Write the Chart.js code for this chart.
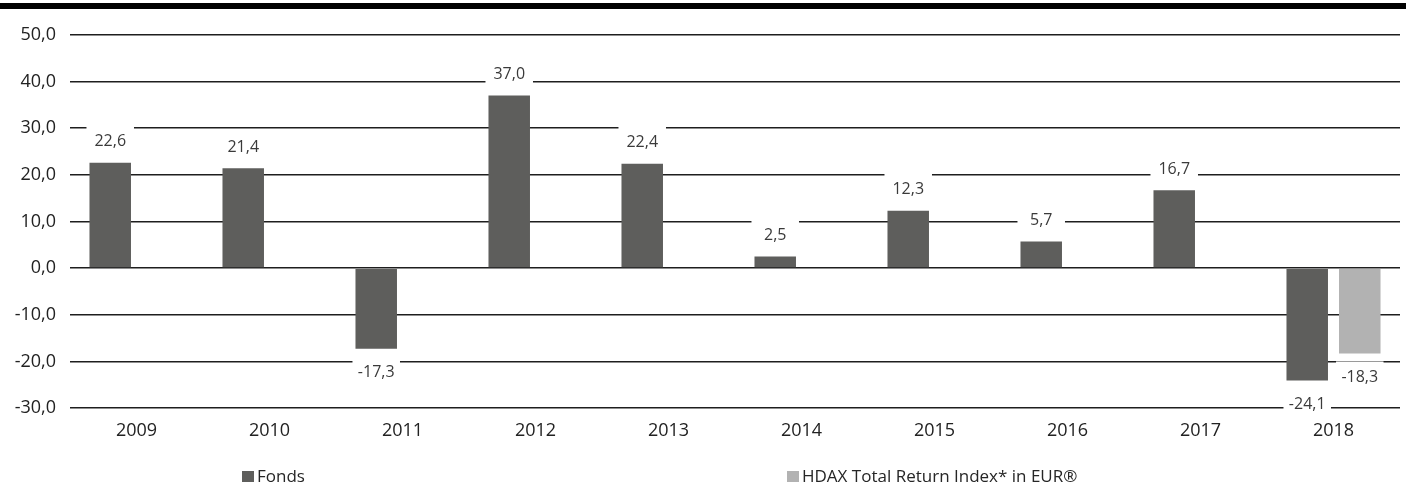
<!DOCTYPE html>
<html>
<head>
<meta charset="utf-8">
<script src="https://cdn.jsdelivr.net/npm/chart.js@4/dist/chart.umd.min.js"></script>
<style>
  html,body{margin:0;padding:0;background:#fff;}
  #wrap{position:relative;width:1406px;height:488px;overflow:hidden;}
  #topbar{position:absolute;left:0;top:3px;width:1406px;height:6px;background:#000;}
  canvas{position:absolute;left:0;top:0;}
  .leg{position:absolute;top:465px;font-family:"Open Sans",sans-serif;font-size:17px;color:#262626;line-height:22px;white-space:nowrap;}
  .leg span.sw{display:inline-block;width:12px;height:11px;margin-right:3px;vertical-align:0px;}
</style>
</head>
<body>
<div id="wrap">
  <canvas id="c" width="1406" height="488"></canvas>
  <div id="topbar"></div>
  <div class="leg" style="left:242px;"><span class="sw" style="background:#5e5e5c"></span>Fonds</div>
  <div class="leg" style="left:787px;"><span class="sw" style="background:#b2b2b2"></span>HDAX Total Return Index* in EUR®</div>
</div>
<script>
const categories = ["2009","2010","2011","2012","2013","2014","2015","2016","2017","2018"];
const fondsValues = [22.6, 21.4, -17.3, 37.0, 22.4, 2.5, 12.3, 5.7, 16.7, -24.1];
const hdaxValues = [null, null, null, null, null, null, null, null, null, -18.3];
const seriesNames = ["Fonds", "HDAX Total Return Index* in EUR®"];

const fmt = v => v.toFixed(1).replace('.', ',');

const labelPlugin = {
  id: 'valueLabels',
  afterDatasetsDraw(chart) {
    const ctx = chart.ctx;
    ctx.save();
    ctx.font = '16px "Open Sans", sans-serif';
    ctx.textAlign = 'center';
    ctx.textBaseline = 'middle';
    chart.data.datasets.forEach((ds, di) => {
      const meta = chart.getDatasetMeta(di);
      meta.data.forEach((bar, i) => {
        const v = ds.data[i];
        if (v === null || v === undefined) return;
        const w = bar.width;
        const cy = v >= 0 ? bar.y - 21 : bar.y + 24;
        ctx.fillStyle = '#ffffff';
        ctx.fillRect(bar.x - w / 2 - 3, cy - 16, w + 6, 26);
        ctx.fillStyle = '#3a3a3a';
        ctx.fillText(fmt(v), bar.x, cy);
      });
    });
    ctx.restore();
  }
};

new Chart(document.getElementById('c'), {
  type: 'bar',
  data: {
    labels: categories,
    datasets: [
      { label: seriesNames[0], data: fondsValues, backgroundColor: '#5e5e5c', borderWidth: 0,
        categoryPercentage: 0.79, barPercentage: 0.79 },
      { label: seriesNames[1], data: hdaxValues, backgroundColor: '#b2b2b2', borderWidth: 0,
        categoryPercentage: 0.79, barPercentage: 0.79 }
    ]
  },
  options: {
    responsive: false,
    animation: false,
    devicePixelRatio: 1,
    layout: { padding: { top: 35, right: 6, left: 0, bottom: 0 } },
    plugins: { legend: { display: false }, tooltip: { enabled: false } },
    scales: {
      x: {
        grid: { display: false, drawTicks: false },
        border: { display: false },
        ticks: { color: '#222', font: { family: '"Open Sans", sans-serif', size: 18 }, padding: 12, maxRotation: 0 },
        afterFit(s) { s.height = 80; }
      },
      y: {
        min: -30, max: 50,
        grid: { color: '#1e1e1e', lineWidth: 1.6, drawTicks: false },
        border: { display: false },
        ticks: { stepSize: 10, color: '#222', font: { family: '"Open Sans", sans-serif', size: 18 }, padding: 14,
                 callback: v => fmt(v) },
        afterFit(s) { s.width = 70; }
      }
    }
  },
  plugins: [labelPlugin]
});
</script>
</body>
</html>
